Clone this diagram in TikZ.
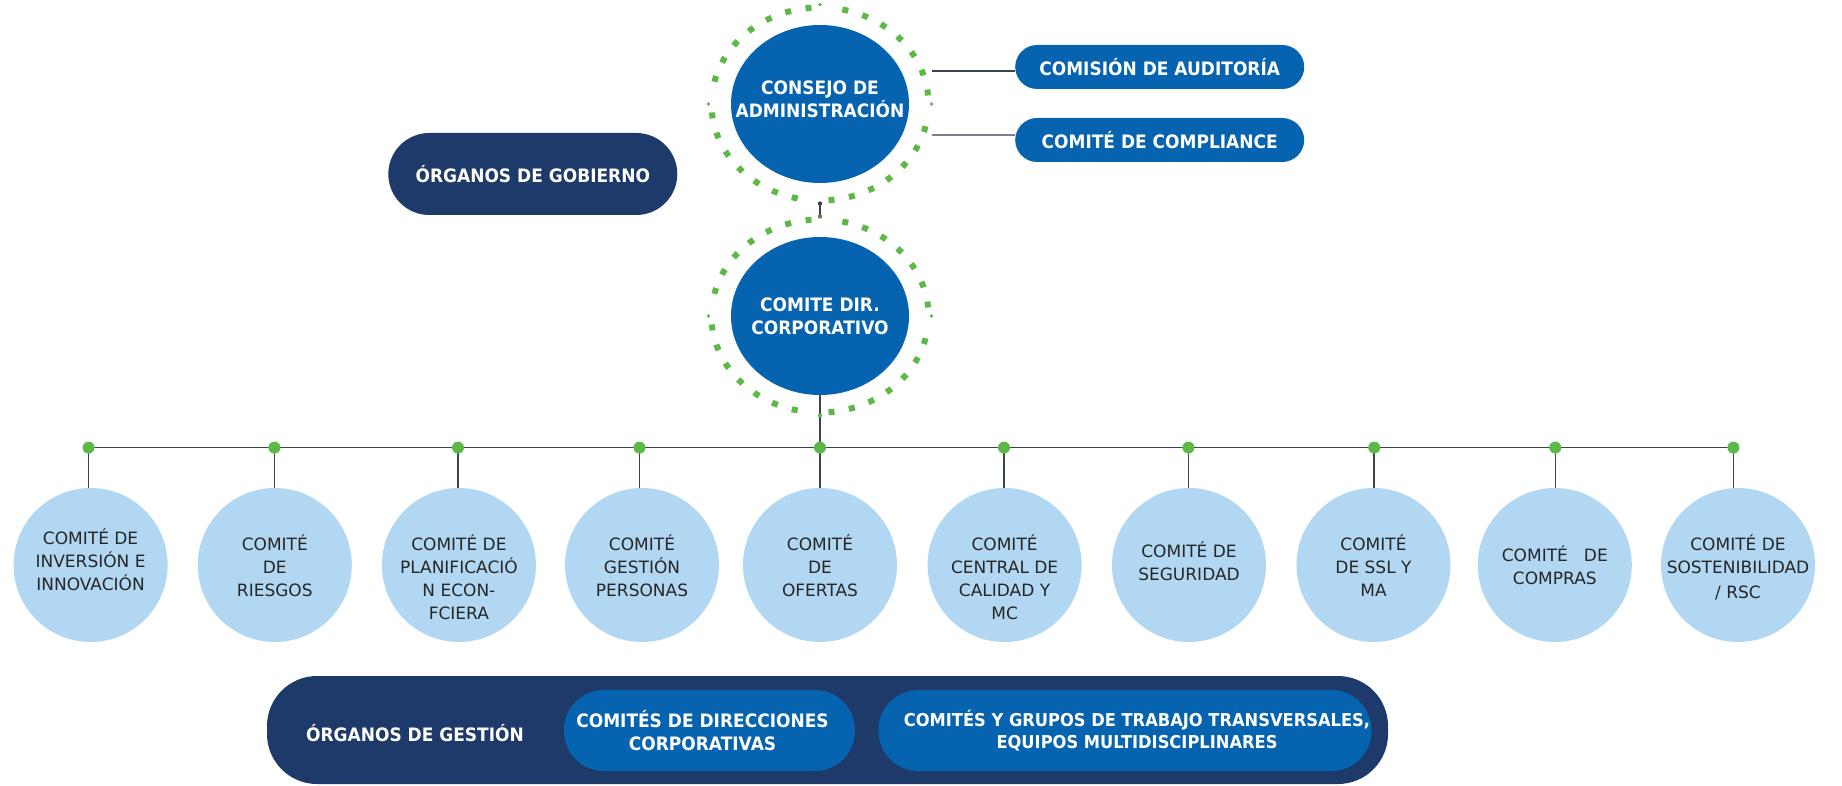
\documentclass[tikz,border=0pt]{standalone}
\usepackage{fontspec}
\setmainfont{DejaVu Sans}
\newfontfamily\bfont[FakeStretch=0.92]{DejaVu Sans}
\usetikzlibrary{shapes.geometric,calc}
\definecolor{navy}{HTML}{1D3A6A}
\definecolor{midblue}{HTML}{0563AF}
\definecolor{lightblue}{HTML}{B1D7F3}
\definecolor{dotgreen}{HTML}{5CB946}
\definecolor{linegray}{HTML}{3B4250}
\definecolor{lightline}{HTML}{7A7F88}
\definecolor{txtdark}{HTML}{262626}
\begin{document}
\begin{tikzpicture}[x=1pt,y=-1pt,
  boldtxt/.style={font=\bfont\bfseries\fontsize{18.5}{23.4}\selectfont, text=white, align=center, inner sep=0pt},
  bigoval/.style={ellipse, fill=midblue, minimum width=178pt, minimum height=158pt, inner sep=0pt},
  ring/.style={ellipse, draw=dotgreen, line width=6pt, minimum width=217pt, minimum height=193pt, inner sep=0pt,
    dash pattern=on 6pt off 14.7pt on 6pt off 14.7pt on 6pt off 14.7pt on 6pt off 14.7pt on 6pt off 14.7pt on 6pt off 14.7pt on 6pt off 30.95pt,
    dash phase=152.65pt},
  ringdot/.style={fill=dotgreen},
  pillbox/.style={rectangle, rounded corners=22pt, fill=midblue, minimum width=289pt, minimum height=44pt, inner sep=0pt, boldtxt},
  navypill/.style={rectangle, rounded corners=41pt, fill=navy, minimum width=289pt, minimum height=82pt, inner sep=0pt, boldtxt},
  innerpill/.style={rectangle, rounded corners=40pt, fill=midblue, minimum height=81pt, inner sep=0pt},
  conn/.style={draw=linegray, line width=1.6pt},
  comcircle/.style={circle, fill=lightblue, minimum size=154pt, inner sep=0pt},
  comtext/.style={font=\fontsize{17}{23}\selectfont, text=txtdark, align=center, inner sep=0pt}
]
\useasboundingbox (0,0) rectangle (1842,786);

% governing bodies
\node[navypill] (gob) at (532.8,174) {ÓRGANOS DE GOBIERNO};

\node[bigoval] (consejo) at (820,104) {};
\node[boldtxt] (consejotxt) at ($(consejo)+(0,-5)$) {CONSEJO DE\\ADMINISTRACIÓN};
\node[ring] (ring1) at (820,104) {};
\node[bigoval] (dir) at (820,316) {};
\node[boldtxt] (dirtxt) at (dir) {COMITE DIR.\\CORPORATIVO};
\node[ring] (ring2) at (820,316) {};
\foreach \r in {ring1,ring2}{
  \foreach \a in {north,south,east,west}{
    \fill[ringdot] (\r.\a) circle (1.8pt);
  }
}

\node[pillbox] (aud) at (1159.7,67) {COMISIÓN DE AUDITORÍA};
\node[pillbox] (comp) at (1159.7,140) {COMITÉ DE COMPLIANCE};
\coordinate (audin) at ($(aud.west)+(0,4)$);
\coordinate (compin) at ($(comp.west)+(0,-5)$);
\draw[conn] (ring1.east |- audin) -- (audin);
\draw[conn, draw=lightline] (ring1.east |- compin) -- (compin);
\draw[conn] (ring1.south) -- (ring2.north);
\fill[linegray] (ring1.south) circle (2.2pt);
\fill[dotgreen!60!linegray] (ring2.north) circle (2.2pt);

% bus
\coordinate (d1) at (88.6,447.6);
\coordinate (d2) at (274.4,447.6);
\coordinate (d3) at (458,447.6);
\coordinate (d4) at (639.5,447.6);
\coordinate (d5) at (820,447.6);
\coordinate (d6) at (1004,447.6);
\coordinate (d7) at (1188.4,447.6);
\coordinate (d8) at (1374.2,447.6);
\coordinate (d9) at (1555.3,447.6);
\coordinate (d10) at (1733.4,447.6);

\node[comcircle] (c1) at (90.6,565) {};
\node[comcircle] (c2) at (274.8,565) {};
\node[comcircle] (c3) at (458.9,565) {};
\node[comcircle] (c4) at (642,565) {};
\node[comcircle] (c5) at (820,565) {};
\node[comcircle] (c6) at (1004.6,565) {};
\node[comcircle] (c7) at (1189,565) {};
\node[comcircle] (c8) at (1373.5,565) {};
\node[comcircle] (c9) at (1554.8,565) {};
\node[comcircle] (c10) at (1738,565) {};

\draw[conn] (dir.south) -- (d5);
\draw[conn] (d1) -- (d10);
\foreach \i in {1,...,10}{
  \draw[conn] (d\i) -- (d\i |- c\i.north);
}
\foreach \i in {1,...,10}{
  \fill[dotgreen] (d\i) circle (6pt);
}
\fill[dotgreen] (ring2.south) circle (2.2pt);

\node[comtext] (t1) at ($(c1)+(0,-5)$) {COMITÉ DE\\INVERSIÓN E\\INNOVACIÓN};
\node[comtext] (t2) at ($(c2)+(0,1)$) {COMITÉ\\DE\\RIESGOS};
\node[comtext] (t3) at ($(c3)+(0,12)$) {COMITÉ DE\\PLANIFICACIÓ\\N ECON-\\FCIERA};
\node[comtext] (t4) at ($(c4)+(0,1)$) {COMITÉ\\GESTIÓN\\PERSONAS};
\node[comtext] (t5) at ($(c5)+(0,1)$) {COMITÉ\\DE\\OFERTAS};
\node[comtext] (t6) at ($(c6)+(0,12)$) {COMITÉ\\CENTRAL DE\\CALIDAD Y\\MC};
\node[comtext] (t7) at ($(c7)+(0,-4)$) {COMITÉ DE\\SEGURIDAD};
\node[comtext] (t8) at ($(c8)+(0,1)$) {COMITÉ\\DE SSL Y\\MA};
\node[comtext] (t9) at ($(c9)+(0,0)$) {COMITÉ\hspace{16pt}DE\\COMPRAS};
\node[comtext] (t10) at ($(c10)+(0,2)$) {COMITÉ DE\\SOSTENIBILIDAD\\[2pt]/ RSC};

% management bodies
\node[rectangle, rounded corners=50pt, fill=navy, minimum width=1121pt, minimum height=108pt, inner sep=0pt] (gest) at (827.5,730) {};
\node[boldtxt] (gesttxt) at (415,733) {ÓRGANOS DE GESTIÓN};
\node[innerpill, minimum width=291pt] (dirc) at (709.5,730.5) {};
\node[boldtxt] (dirctxt) at ($(dirc)+(-7,0)$) {COMITÉS DE DIRECCIONES\\CORPORATIVAS};
\node[innerpill, minimum width=493pt] (trans) at (1125,730.5) {};
\node[boldtxt, font=\bfont\bfseries\fontsize{17.7}{22.4}\selectfont] (transtxt) at ($(trans)+(12,0)$) {COMITÉS Y GRUPOS DE TRABAJO TRANSVERSALES,\\EQUIPOS MULTIDISCIPLINARES};
\end{tikzpicture}
\end{document}
